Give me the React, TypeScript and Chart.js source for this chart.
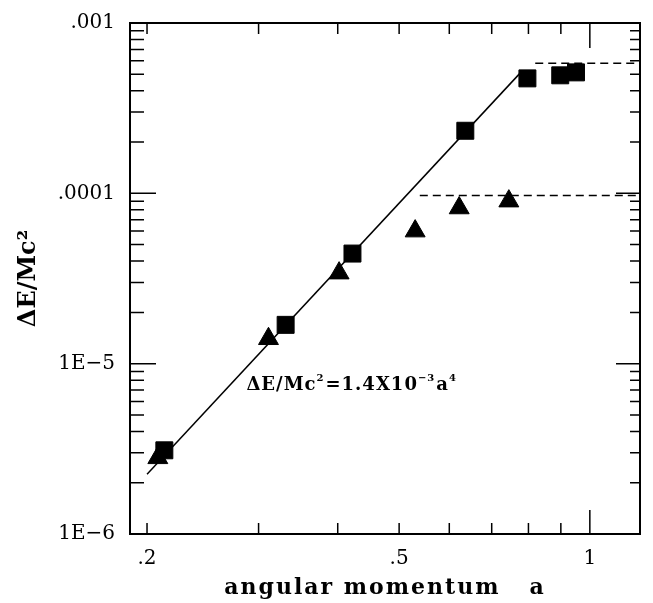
import React, { useEffect, useRef } from "react";
import { Chart, registerables } from "chart.js";

Chart.register(...registerables);

// Measured energy loss vs. angular momentum (two runs)
const squareA = [0.213, 0.331, 0.422, 0.636, 0.797, 0.898, 0.951];
const squareE = [3.1e-6, 1.69e-5, 4.43e-5, 2.33e-4, 4.73e-4, 4.93e-4, 5.13e-4];
const triangleA = [0.208, 0.311, 0.402, 0.53, 0.622, 0.745];
const triangleE = [2.8e-6, 1.4e-5, 3.4e-5, 6.0e-5, 8.2e-5, 9.0e-5];

// Fit: dE/Mc^2 = 1.4e-3 * a^4
const fitCoefficient = 1.4e-3;
const fitPower = 4;
const fitRange = [0.2, 0.78];

// Saturation levels (dashed)
const upperLevelA = [0.82, 1.2];
const upperLevelE = 5.8e-4;
const lowerLevelA = [0.539, 1.2];
const lowerLevelE = 9.7e-5;

// Axis labelling
const xTickValues = [0.2, 0.5, 1];
const xTickLabels = [".2", ".5", "1"];
const yTickValues = [1e-6, 1e-5, 1e-4, 1e-3];
const yTickLabels = ["1E\u22126", "1E\u22125", ".0001", ".001"];
const xMinorTicks = [0.2, 0.3, 0.4, 0.5, 0.6, 0.7, 0.8, 0.9, 1.0];
const xMajorTicks = [1.0];
const yDecades = [1e-6, 1e-5, 1e-4];
const yMultipliers = [1, 2, 3, 4, 5, 6, 7, 8, 9];
const xTitle = "angular momentum   a";
const yTitle = "\u0394E/Mc\u00B2";

const X_MIN = 0.188;
const X_MAX = 1.2;
const Y_MIN = 1e-6;
const Y_MAX = 1e-3;

const WIDTH = 653;
const HEIGHT = 603;
const SERIF = "'DejaVu Serif', serif";

const framePlugin = {
  id: "frameTicks",
  afterDatasetsDraw(chart: any) {
    const { ctx, chartArea, scales } = chart;
    const { left, right, top, bottom } = chartArea;
    const x = scales.x;
    const y = scales.y;
    ctx.save();
    ctx.strokeStyle = "#000";
    ctx.lineWidth = 2;
    ctx.strokeRect(left, top, right - left, bottom - top);
    ctx.lineWidth = 1.5;
    ctx.beginPath();
    for (const v of xMinorTicks) {
      const px = x.getPixelForValue(v);
      const major = xMajorTicks.includes(v);
      ctx.moveTo(px, bottom);
      ctx.lineTo(px, bottom - (major ? 24 : 11));
      ctx.moveTo(px, top);
      ctx.lineTo(px, top + (major ? 25 : 11));
    }
    for (const d of yDecades) {
      for (const m of yMultipliers) {
        const py = y.getPixelForValue(d * m);
        const major = m === 1;
        ctx.moveTo(left, py);
        ctx.lineTo(left + (major ? 26 : 14), py);
        ctx.moveTo(right, py);
        ctx.lineTo(right - (major ? 24 : 10), py);
      }
    }
    ctx.stroke();

    // x-axis title, letter-spaced
    ctx.fillStyle = "#000";
    ctx.font = `bold 22px ${SERIF}`;
    (ctx as any).letterSpacing = "2px";
    ctx.textAlign = "center";
    ctx.textBaseline = "alphabetic";
    ctx.fillText(xTitle, (left + right) / 2, 594);
    ctx.restore();
  },
};

// Fit formula annotation, drawn with raised exponents
const formulaParts: { t: string; sup?: boolean }[] = [
  { t: "\u0394E/Mc" },
  { t: "2", sup: true },
  { t: "=1.4X10" },
  { t: "\u22123", sup: true },
  { t: "a" },
  { t: "4", sup: true },
];
const formulaAnchor = { a: 0.287, e: 7.0e-6 };

const formulaPlugin = {
  id: "formula",
  afterDatasetsDraw(chart: any) {
    const { ctx, scales } = chart;
    let px = scales.x.getPixelForValue(formulaAnchor.a);
    const py = scales.y.getPixelForValue(formulaAnchor.e);
    ctx.save();
    ctx.fillStyle = "#000";
    ctx.textBaseline = "alphabetic";
    ctx.textAlign = "left";
    (ctx as any).letterSpacing = "1px";
    for (const p of formulaParts) {
      ctx.font = p.sup ? `bold 10px ${SERIF}` : `bold 18px ${SERIF}`;
      ctx.fillText(p.t, px, p.sup ? py - 9 : py);
      px += ctx.measureText(p.t).width + (p.sup ? 1 : 0);
    }
    ctx.restore();
  },
};

export default function App() {
  const canvasRef = useRef<HTMLCanvasElement | null>(null);

  useEffect(() => {
    const canvas = canvasRef.current;
    if (!canvas) return;

    const toPoints = (xs: number[], ys: number[]) => xs.map((v, i) => ({ x: v, y: ys[i] }));
    const fitPoints = fitRange.map((a) => ({ x: a, y: fitCoefficient * Math.pow(a, fitPower) }));

    const chart = new Chart(canvas, {
      type: "scatter",
      data: {
        datasets: [
          {
            label: "squares",
            data: toPoints(squareA, squareE),
            pointStyle: "rect",
            pointRadius: 12,
            backgroundColor: "#000",
            borderColor: "#000",
            borderWidth: 1,
            showLine: false,
          },
          {
            label: "triangles",
            data: toPoints(triangleA, triangleE),
            pointStyle: "triangle",
            pointRadius: 11.5,
            backgroundColor: "#000",
            borderColor: "#000",
            borderWidth: 1,
            showLine: false,
          },
          {
            label: "fit",
            data: fitPoints,
            showLine: true,
            pointRadius: 0,
            borderColor: "#000",
            borderWidth: 1.5,
          },
          {
            label: "upper level",
            data: upperLevelA.map((a) => ({ x: a, y: upperLevelE })),
            showLine: true,
            pointRadius: 0,
            borderColor: "#000",
            borderWidth: 1.5,
            borderDash: [8, 5],
          },
          {
            label: "lower level",
            data: lowerLevelA.map((a) => ({ x: a, y: lowerLevelE })),
            showLine: true,
            pointRadius: 0,
            borderColor: "#000",
            borderWidth: 1.5,
            borderDash: [8, 5],
          },
        ],
      },
      options: {
        animation: false,
        responsive: false,
        maintainAspectRatio: false,
        devicePixelRatio: 1,
        layout: { padding: { top: 23, right: 8, left: 0, bottom: 0 } },
        plugins: {
          legend: { display: false },
          tooltip: { enabled: false },
        },
        scales: {
          x: {
            type: "logarithmic",
            min: X_MIN,
            max: X_MAX,
            grid: { display: false, drawTicks: false },
            border: { display: false },
            afterBuildTicks: (s: any) => {
              s.ticks = xTickValues.map((v) => ({ value: v }));
            },
            afterFit: (s: any) => {
              s.height = 69;
              s.paddingLeft = 0;
              s.paddingRight = 0;
            },
            ticks: {
              autoSkip: false,
              maxRotation: 0,
              padding: 13,
              color: "#000",
              font: { family: SERIF, size: 20 },
              callback: (v: any) => {
                const i = xTickValues.indexOf(Number(v));
                return i >= 0 ? xTickLabels[i] : "";
              },
            },
            title: { display: false },
          },
          y: {
            type: "logarithmic",
            min: Y_MIN,
            max: Y_MAX,
            grid: { display: false, drawTicks: false },
            border: { display: false },
            afterBuildTicks: (s: any) => {
              s.ticks = yTickValues.map((v) => ({ value: v }));
            },
            afterFit: (s: any) => {
              s.width = 130;
              s.paddingTop = 0;
              s.paddingBottom = 0;
            },
            ticks: {
              autoSkip: false,
              padding: 15,
              color: "#000",
              font: { family: SERIF, size: 20 },
              callback: (v: any) => {
                const i = yTickValues.findIndex((t) => Math.abs(t - Number(v)) / t < 1e-6);
                return i >= 0 ? yTickLabels[i] : "";
              },
            },
            title: {
              display: true,
              text: yTitle,
              color: "#000",
              font: { family: SERIF, size: 24, weight: "bold" },
              padding: { top: 14, bottom: 0 },
            },
          },
        },
      },
      plugins: [framePlugin, formulaPlugin],
    });

    return () => chart.destroy();
  }, []);

  return (
    <div style={{ position: "absolute", left: 0, top: 0, width: WIDTH, height: HEIGHT, background: "#fff", overflow: "hidden" }}>
      <canvas ref={canvasRef} width={WIDTH} height={HEIGHT} style={{ display: "block" }} />
    </div>
  );
}
